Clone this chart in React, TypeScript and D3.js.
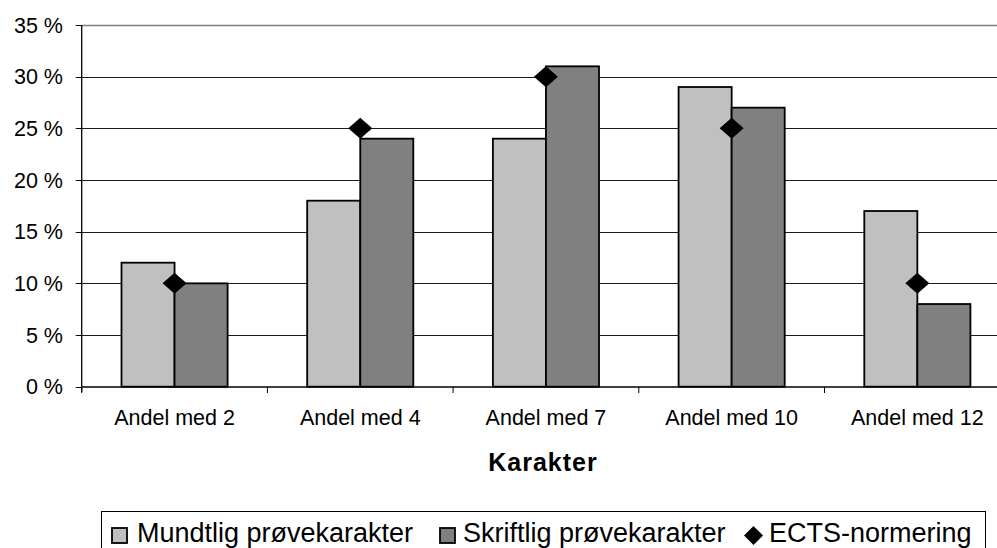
import React from "react";
import * as d3 from "d3";

const categories = ["Andel med 2", "Andel med 4", "Andel med 7", "Andel med 10", "Andel med 12"];
const mundtlig = [12, 18, 24, 29, 17];
const skriftlig = [10, 24, 31, 27, 8];
const ects = [10, 25, 30, 25, 10];
const yTicks = [0, 5, 10, 15, 20, 25, 30, 35];
const seriesNames = ["Mundtlig prøvekarakter", "Skriftlig prøvekarakter", "ECTS-normering"];

const W = 997;
const H = 548;
const FONT = "'Liberation Sans', Arial, sans-serif";

export default function App() {
  const left = 81.7;
  const bandStep = 185.7;
  const x = d3
    .scaleBand<string>()
    .domain(categories)
    .range([left, left + bandStep * categories.length])
    .padding(0);
  const x1 = d3
    .scaleBand<string>()
    .domain(["m", "s"])
    .range([0, x.bandwidth()])
    .paddingInner(0)
    .paddingOuter(0.75);
  const y = d3.scaleLinear().domain([0, 35]).range([386.7, 25]);

  const diamond = (cx: number, cy: number, rx: number, ry: number) =>
    `M${cx},${cy - ry}L${cx + rx},${cy}L${cx},${cy + ry}L${cx - rx},${cy}Z`;

  return (
    <svg
      width={W}
      height={H}
      style={{ position: "absolute", left: 0, top: 0, background: "#fff" }}
      fontFamily={FONT}
    >
      <rect x={0} y={0} width={W} height={H} fill="#fff" />
      {/* gridlines */}
      {yTicks.map((t) =>
        t === 0 ? null : (
          <line
            key={"g" + t}
            x1={left}
            x2={W}
            y1={Math.round(y(t)) + 0.5}
            y2={Math.round(y(t)) + 0.5}
            stroke={t === 35 ? "#808080" : "#1a1a1a"}
            strokeWidth={t === 35 ? 1.6 : 1}
          />
        )
      )}
      {/* y tick labels and ticks */}
      {yTicks.map((t) => (
        <g key={"y" + t}>
          <line x1={left - 6} x2={left} y1={Math.round(y(t)) + 0.5} y2={Math.round(y(t)) + 0.5} stroke="#000" />
          <text x={63} y={y(t) + 7.5} textAnchor="end" fontSize={21.5} fill="#000">
            {`${t} %`}
          </text>
        </g>
      ))}
      {/* bars */}
      {categories.map((c, i) => (
        <g key={"b" + c}>
          <rect
            x={(x(c) as number) + (x1("m") as number)}
            y={y(mundtlig[i])}
            width={x1.bandwidth()}
            height={y(0) - y(mundtlig[i])}
            fill="#C0C0C0"
            stroke="#000"
            strokeWidth={1.8}
          />
          <rect
            x={(x(c) as number) + (x1("s") as number)}
            y={y(skriftlig[i])}
            width={x1.bandwidth()}
            height={y(0) - y(skriftlig[i])}
            fill="#808080"
            stroke="#000"
            strokeWidth={1.8}
          />
        </g>
      ))}
      {/* axes */}
      <line x1={left} x2={left} y1={25} y2={392} stroke="#000" strokeWidth={1.3} />
      <line x1={left} x2={W} y1={387} y2={387} stroke="#000" strokeWidth={1.3} />
      {categories.map((c) => (
        <line
          key={"xt" + c}
          x1={x(c) as number}
          x2={x(c) as number}
          y1={387}
          y2={393}
          stroke="#000"
        />
      ))}
      {/* ECTS markers */}
      {categories.map((c, i) => (
        <path
          key={"d" + c}
          d={diamond((x(c) as number) + x.bandwidth() / 2, y(ects[i]), 12, 10.5)}
          fill="#000"
        />
      ))}
      {/* x labels */}
      {categories.map((c) => (
        <text
          key={"xl" + c}
          x={(x(c) as number) + x.bandwidth() / 2}
          y={425}
          textAnchor="middle"
          fontSize={21.5}
          fill="#000"
        >
          {c}
        </text>
      ))}
      <text x={543} y={471} textAnchor="middle" fontSize={25} fontWeight="bold" letterSpacing={1} fill="#000">
        Karakter
      </text>
      {/* legend */}
      <rect x={101.5} y={511.5} width={884} height={60} fill="#fff" stroke="#000" strokeWidth={1} />
      <rect x={112} y={528} width={15} height={15} fill="#C0C0C0" stroke="#000" strokeWidth={1.8} />
      <text x={137} y={542} fontSize={27} fill="#000">
        {seriesNames[0]}
      </text>
      <rect x={440} y={528} width={15} height={15} fill="#808080" stroke="#000" strokeWidth={1.8} />
      <text x={463} y={542} fontSize={27} fill="#000">
        {seriesNames[1]}
      </text>
      <path d={diamond(753.5, 535.5, 9.5, 9.5)} fill="#000" />
      <text x={769} y={542} fontSize={27} fill="#000">
        {seriesNames[2]}
      </text>
    </svg>
  );
}
